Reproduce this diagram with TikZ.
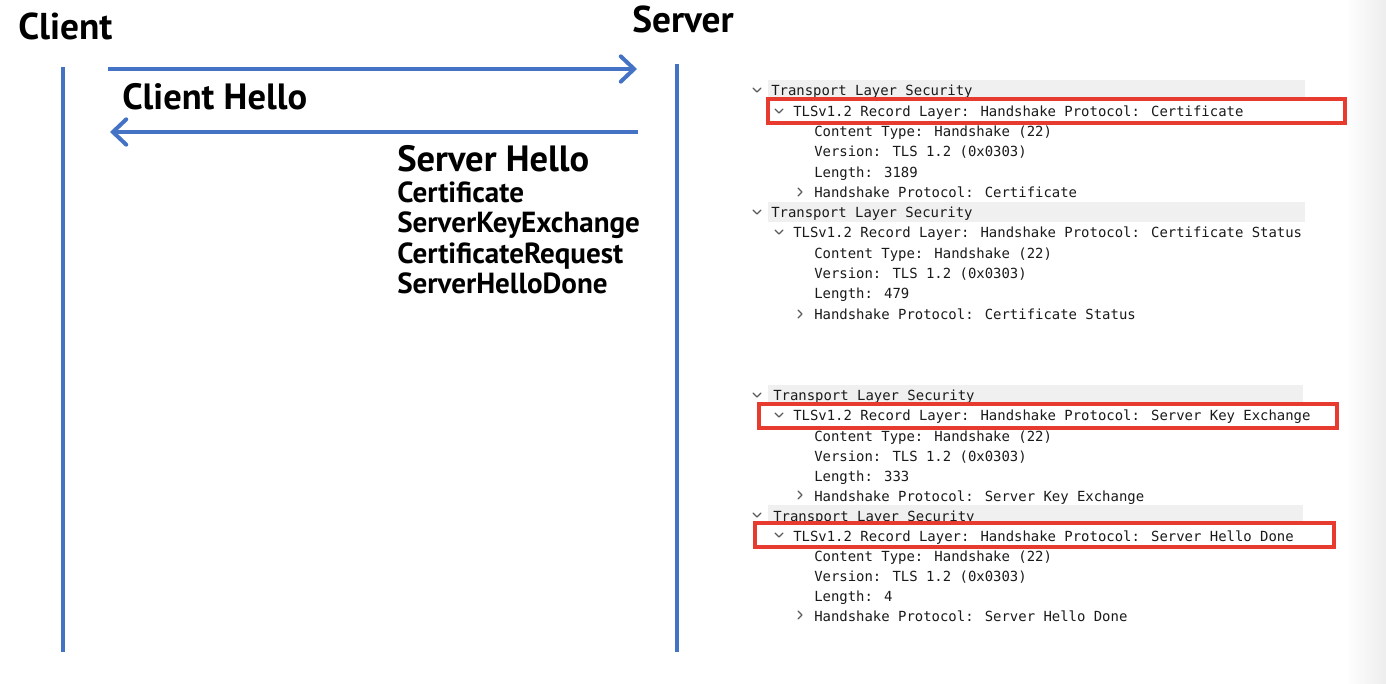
\documentclass[tikz,border=0pt]{standalone}
\usepackage{fontspec}
\usetikzlibrary{arrows.meta}
\newfontfamily\headfont{PT Sans}
\newfontfamily\treefont{DejaVu Sans Mono}
\definecolor{lifeblue}{HTML}{4472C4}
\definecolor{hlred}{HTML}{E63B2E}
\definecolor{rowgray}{HTML}{F0F0F0}
\definecolor{treetext}{HTML}{1A1A1A}
\definecolor{chevgray}{HTML}{5A5A5A}
\tikzset{
  lifeline/.style={draw=lifeblue, line width=3pt},
  msg/.style={draw=lifeblue, line width=3pt,
    -{Straight Barb[length=10pt,width=19pt,line cap=round]}},
  actor/.style={anchor=base west, inner sep=0pt, font=\headfont\bfseries\fontsize{28}{32}\selectfont},
  msglabel/.style={anchor=base west, inner sep=0pt, font=\headfont\bfseries\fontsize{27.4}{32}\selectfont},
  sublabel/.style={anchor=base west, inner sep=0pt, font=\headfont\bfseries\fontsize{21.8}{26}\selectfont},
  row/.style={anchor=base west, inner sep=0pt, text=treetext, font=\treefont\fontsize{10.45}{12}\selectfont},
  rowbar/.style={fill=rowgray, draw=none},
  hl/.style={draw=hlred, line width=2.3pt},
  chev/.style={draw=chevgray, line width=0.9pt, line cap=round, line join=round},
}
\begin{document}
\begin{tikzpicture}[x=0.75pt, y=-0.75pt]
\useasboundingbox (0,0) rectangle (1386,684);
\fill[white] (0,0) rectangle (1386,684);
\shade[left color=white, right color=black!7, draw=none] (1345,0) rectangle (1386,684);

% actors and lifelines
\node[actor] (client) at (18,40) {Client};
\node[actor] (server) at (632,33) {Server};
\coordinate (cTop) at (63,67);
\coordinate (cBot) at (63,652);
\coordinate (sTop) at (677,64);
\coordinate (sBot) at (677,652);
\draw[lifeline] (cTop) -- (cBot);
\draw[lifeline] (sTop) -- (sBot);

% messages
\coordinate (m1a) at (108,69);
\coordinate (m1b) at (637,69);
\coordinate (m2a) at (638,132);
\coordinate (m2b) at (110,132);
\draw[msg] (m1a) -- (m1b);
\draw[msg] (m2a) -- (m2b);
\node[msglabel] (chello) at (122,110) {Client Hello};
\node[msglabel] (shello) at (397,172) {Server Hello};
\node[sublabel] (cert) at (397,203) {Certificate};
\node[sublabel] (ske) at (397,233) {ServerKeyExchange};
\node[sublabel] (creq) at (397,264) {CertificateRequest};
\node[sublabel] (shd) at (397,294) {ServerHelloDone};

% packet detail tree: grey header bars
\fill[rowbar] (768,80) rectangle (1305,100);
\fill[rowbar] (768,202) rectangle (1305,222);
\fill[rowbar] (768,385) rectangle (1303,405);
\fill[rowbar] (768,505) rectangle (1303,525);

% block 1
\node[row] (t1) at (771,96) {Transport Layer Security};
\node[row] (r1) at (793,117) {TLSv1.2 Record Layer: Handshake Protocol: Certificate};
\node[row] (c1) at (814,137) {Content Type: Handshake (22)};
\node[row] (v1) at (814,157) {Version: TLS 1.2 (0x0303)};
\node[row] (l1) at (814,178) {Length: 3189};
\node[row] (h1) at (814,198) {Handshake Protocol: Certificate};
% block 2
\node[row] (t2) at (771,218) {Transport Layer Security};
\node[row] (r2) at (793,238) {TLSv1.2 Record Layer: Handshake Protocol: Certificate Status};
\node[row] (c2) at (814,259) {Content Type: Handshake (22)};
\node[row] (v2) at (814,279) {Version: TLS 1.2 (0x0303)};
\node[row] (l2) at (814,299) {Length: 479};
\node[row] (h2) at (814,320) {Handshake Protocol: Certificate Status};
% block 3
\node[row] (t3) at (773,401) {Transport Layer Security};
\node[row] (r3) at (793,421) {TLSv1.2 Record Layer: Handshake Protocol: Server Key Exchange};
\node[row] (c3) at (814,441) {Content Type: Handshake (22)};
\node[row] (v3) at (814,461) {Version: TLS 1.2 (0x0303)};
\node[row] (l3) at (814,481) {Length: 333};
\node[row] (h3) at (814,501) {Handshake Protocol: Server Key Exchange};
% block 4
\node[row] (t4) at (773,521) {Transport Layer Security};
\node[row] (r4) at (793,541) {TLSv1.2 Record Layer: Handshake Protocol: Server Hello Done};
\node[row] (c4) at (814,561) {Content Type: Handshake (22)};
\node[row] (v4) at (814,581) {Version: TLS 1.2 (0x0303)};
\node[row] (l4) at (814,601) {Length: 4};
\node[row] (h4) at (814,621) {Handshake Protocol: Server Hello Done};

% expand / collapse chevrons
\foreach \x/\y in {757/90, 779/111, 757/212, 779/232, 757/395, 779/415, 757/515, 779/535}
  \draw[chev] (\x-4,\y-2) -- (\x,\y+2) -- (\x+4,\y-2);
\foreach \y in {192, 314, 495, 615}
  \draw[chev] (798,\y-4) -- (802,\y) -- (798,\y+4);

% highlighted records
\draw[hl] (768,99) rectangle (1345,123);
\draw[hl] (759,404) rectangle (1337,428);
\draw[hl] (755,523) rectangle (1334,547);
\end{tikzpicture}
\end{document}
